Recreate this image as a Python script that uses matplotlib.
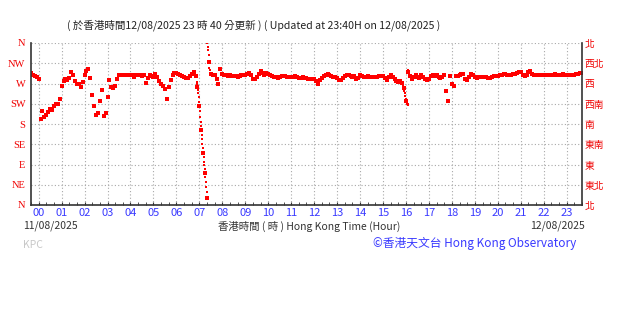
import numpy as np
import matplotlib
matplotlib.use("Agg")
import matplotlib.pyplot as plt

plt.rcParams['font.family'] = ['Noto Sans CJK TC', 'DejaVu Sans']

# ---- data: wind direction (deg), one reading every 5 min from 11/08 23:40 ----
start_min = -20
step_min = 5
wind_dir = [
    293, 290, 287, 284,                                              # 23:40-23:55
    281, 192, 210, 196, 199, 206, 214, 211, 219, 224, 224, 235,      # 00
    265, 275, 280, 278, 282, 296, 290, 276, 268, 268, 262, 274,      # 01
    290, 297, 303, 282, 245, 219, 200, 205, 232, 256, 198, 205,      # 02
    240, 278, 262, 259, 264, 280, 290, 288, 289, 288, 288, 288,      # 03
    289, 288, 284, 288, 289, 288, 287, 289, 272, 282, 289, 286,      # 04
    285, 292, 284, 276, 270, 265, 258, 235, 262, 278, 288, 293,      # 05
    294, 291, 289, 287, 285, 283, 282, 287, 292, 296, 286, 262,      # 06
    220, 166, 116, 72, 15, 318, 292, 290, 289, 281, 270, 303,        # 07
    291, 289, 288, 287, 289, 287, 286, 287, 285, 286, 289, 290,      # 08
    290, 291, 293, 288, 280, 281, 285, 291, 298, 293, 289, 293,      # 09
    291, 289, 287, 284, 285, 282, 285, 286, 287, 286, 285, 285,      # 10
    285, 285, 286, 285, 283, 282, 284, 282, 283, 280, 279, 280,      # 11
    279, 276, 270, 278, 282, 287, 290, 291, 289, 287, 285, 284,      # 12
    282, 278, 277, 283, 287, 289, 289, 287, 284, 286, 281, 283,      # 13
    289, 287, 285, 285, 286, 285, 284, 285, 284, 285, 286, 286,      # 14
    287, 282, 277, 285, 288, 285, 281, 275, 273, 276, 272, 259,      # 15
    232, 296, 286, 281, 285, 288, 285, 283, 288, 284, 279, 278,      # 16
    281, 287, 288, 286, 288, 285, 282, 284, 288, 254, 232, 287,      # 17
    268, 264, 287, 286, 289, 291, 292, 281, 278, 284, 291, 290,      # 18
    285, 283, 284, 285, 285, 285, 284, 282, 283, 285, 286, 286,      # 19
    287, 288, 290, 291, 291, 290, 288, 290, 291, 292, 294, 296,      # 20
    295, 289, 287, 289, 295, 298, 291, 288, 288, 289, 289, 289,      # 21
    289, 289, 289, 289, 289, 290, 291, 290, 289, 290, 291, 290,      # 22
    289, 289, 288, 290, 290, 292, 292, 293, 293,                     # 23:00-23:40
]

# minute readings where the direction swings fast (minutes after 00:00)
swing1_min = list(range(413, 448))
swing1_dir = [274, 268, 262, 255, 248, 240, 230, 220, 208, 196, 185, 176,
              166, 156, 146, 136, 126, 116, 106, 96, 88, 80, 72, 62, 52,
              40, 28, 15, 359, 352, 345, 333, 318, 305, 300]
swing2_min = list(range(950, 967))
swing2_dir = [272, 271, 270, 267, 263, 259, 254, 248, 242, 236, 232, 229,
              226, 224, 223, 225, 300]

dir_ticks = [0, 45, 90, 135, 180, 225, 270, 315, 360]
dir_en = ['N', 'NE', 'E', 'SE', 'S', 'SW', 'W', 'NW', 'N']
dir_zh = ['北', '東北', '東', '東南', '南', '西南', '西', '西北', '北']
hour_labels = ['%02d' % h for h in range(24)]

# ---- figure ----
W, H = 626, 310
fig = plt.figure(figsize=(W / 100, H / 100), dpi=100)
ax = fig.add_axes([31 / W, 1 - 205 / H, 551 / W, 162 / H])

t = [(start_min + step_min * i) / 60 for i in range(len(wind_dir))]
red = '#ff0000'
ax.plot(t, wind_dir, 's', ms=2.3, mew=0, color=red)
ax.plot([m / 60 for m in swing1_min], swing1_dir, 's', ms=1.7, mew=0, color=red)
ax.plot([m / 60 for m in swing2_min], swing2_dir, 's', ms=1.7, mew=0, color=red)

ax.set_xlim(-20 / 60, 1420 / 60)
ax.set_ylim(0, 360)
ax.set_yticks(dir_ticks)
ax.set_yticklabels(dir_en, family='Liberation Serif', fontsize=7.5, color='#f00000')
ax.set_xticks(range(24))
ax.set_xticklabels(hour_labels, fontsize=8, color='#3a3aff')
ax.set_xticks(np.arange(-1 / 3, 23.7, 1 / 3), minor=True)
ax.tick_params(axis='x', which='both', direction='in', length=2, color='#333333', pad=2)
ax.tick_params(axis='y', length=0, pad=4)
ax.grid(True, color='#a8a8a8', linestyle=(0, (1, 2)), linewidth=0.8)

for s in ['left', 'right', 'bottom']:
    ax.spines[s].set_color('#333333')
    ax.spines[s].set_linewidth(1.2)
ax.spines['top'].set_visible(False)

ax2 = ax.twinx()
ax2.set_ylim(0, 360)
ax2.set_yticks(dir_ticks)
ax2.set_yticklabels(dir_zh, fontsize=7, color='#f00000')
ax2.tick_params(axis='y', length=0, pad=2)
for s in ax2.spines.values():
    s.set_visible(False)


def px_text(x, y, s, **kw):
    fig.text(x / W, 1 - y / H, s, va='center', **kw)


px_text(67, 25, '( 於香港時間12/08/2025 23 時 40 分更新 ) ( Updated at 23:40H on 12/08/2025 )',
        fontsize=7.6, color='#222222')
px_text(23, 226, '11/08/2025', fontsize=7.5, color='#333333')
px_text(309, 226, '香港時間 ( 時 ) Hong Kong Time (Hour)', fontsize=7.5, color='#333333', ha='center')
px_text(585, 226, '12/08/2025', fontsize=7.5, color='#333333', ha='right')
px_text(23, 245, 'KPC', fontsize=7.5, color='#c8c8c8')
px_text(576, 243, '©香港天文台 Hong Kong Observatory', fontsize=8.5, color='#3a3aff', ha='right')

fig.savefig('out.png', dpi=100)
